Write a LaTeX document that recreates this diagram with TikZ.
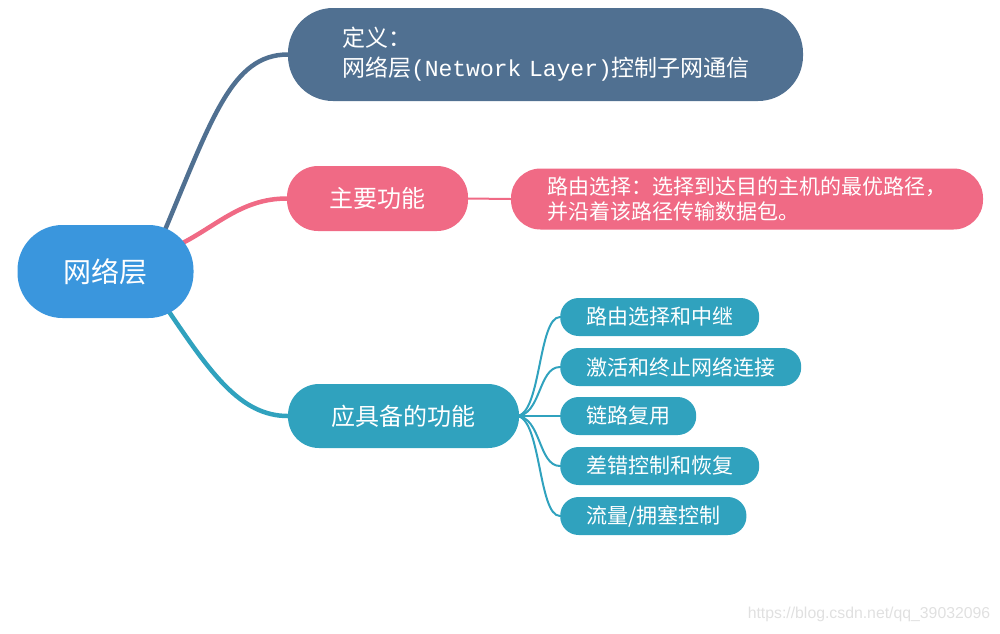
\documentclass[tikz,border=0pt]{standalone}
\usepackage{fontspec}
\setmainfont{Noto Sans CJK SC}
\newfontfamily\lmono{Liberation Mono}
\newfontfamily\wmfont{Liberation Sans}
\usetikzlibrary{backgrounds}
\definecolor{rootblue}{RGB}{58,150,221}
\definecolor{defblue}{RGB}{80,112,145}
\definecolor{pinkc}{RGB}{240,106,133}
\definecolor{tealc}{RGB}{48,162,190}
\definecolor{wmgray}{RGB}{224,224,224}
\begin{document}
\begin{tikzpicture}[x=1pt,y=-1pt,
  pill/.style={rectangle, inner sep=0pt, text=white, align=center},
  leaf/.style={rectangle, fill=tealc, text=white, anchor=west, inner xsep=26pt, inner ysep=0pt,
    minimum height=38pt, rounded corners=18.5pt, font=\fontsize{21}{24}\selectfont},
  thick link/.style={line width=4.5pt, line cap=round},
  thin link/.style={line width=2pt, tealc}
]
\useasboundingbox (0,0) rectangle (1000,633);
\node[pill, fill=rootblue, minimum width=176pt, minimum height=93pt, rounded corners=45pt,
  font=\fontsize{28}{32}\selectfont] (root) at (105.5,271.5) {网络层};
\node[pill, fill=defblue, minimum width=515pt, minimum height=93pt, rounded corners=45pt,
  text width=407pt, align=left, font=\fontsize{23}{30}\selectfont] (def) at (545.5,54.5)
  {定义：\\\mbox{网络层{\lmono (Network~Layer)}控制子网通信}};
\node[pill, fill=pinkc, minimum width=181pt, minimum height=65pt, rounded corners=31pt,
  font=\fontsize{24}{28}\selectfont] (main) at (377.5,198.5) {主要功能};
\node[pill, fill=pinkc, minimum width=472pt, minimum height=61pt, rounded corners=29.5pt,
  text width=400pt, align=left, font=\fontsize{21}{25}\selectfont] (mainr) at (747,199)
  {路由选择：选择到达目的主机的最优路径，\\并沿着该路径传输数据包。};
\node[pill, fill=tealc, minimum width=231pt, minimum height=64pt, rounded corners=31pt,
  font=\fontsize{24}{28}\selectfont] (func) at (403.5,416) {应具备的功能};
\node[leaf] (c1) at (560,317) {路由选择和中继};
\node[leaf] (c2) at (560,367) {激活和终止网络连接};
\node[leaf] (c3) at (560,416) {链路复用};
\node[leaf] (c4) at (560,466) {差错控制和恢复};
\node[leaf] (c5) at (560,516) {流量/拥塞控制};
\node[text=wmgray, font=\wmfont\fontsize{15.8}{18}\selectfont] (wm) at (869,614)
  {https://blog.csdn.net/qq\_39032096};
\begin{scope}[on background layer]
  \draw[thick link, defblue] ([shift={(58,-38)}]root.center) .. controls (212,118) and (232,54.5) .. (def.west);
  \draw[thick link, pinkc] ([shift={(70,-25)}]root.center) .. controls (215,228) and (240,198.5) .. (main.west);
  \draw[thick link, tealc] ([shift={(62,38)}]root.center) .. controls (210,372) and (240,416) .. (func.west);
  \draw[line width=2pt, pinkc] (main.east) -- (mainr.west);
  \foreach \c in {c1,c2,c3,c4,c5}
    \draw[thin link] ([xshift=-3pt]func.east) .. controls +(25,0) and +(-22,0) .. (\c.west);
\end{scope}
\end{tikzpicture}
\end{document}
